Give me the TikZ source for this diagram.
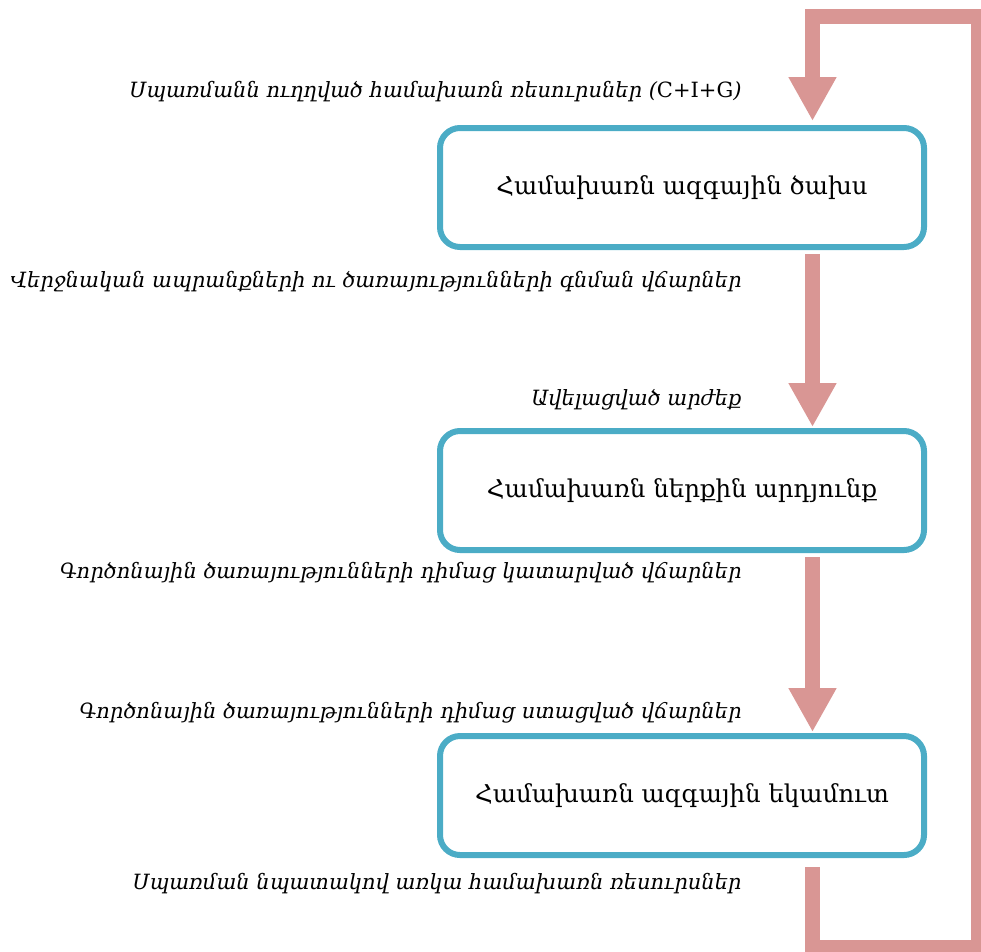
\documentclass[tikz,border=0pt]{standalone}
\usepackage{fontspec}
\setmainfont{DejaVu Serif}
\usetikzlibrary{positioning,arrows.meta}
\definecolor{boxblue}{HTML}{4BACC6}
\definecolor{flowpink}{HTML}{D99694}
\tikzset{
	sector/.style={draw=boxblue,line width=6pt,rounded corners=20pt,minimum width=484pt,minimum height=119pt,font=\fontsize{24.5}{28}\selectfont},
	flow/.style={draw=flowpink,line width=15pt,-{Triangle[length=44pt,width=45pt]}},
	note/.style={anchor=east,font=\itshape\fontsize{21}{25}\selectfont}
}
\begin{document}
\begin{tikzpicture}[x=1pt,y=-1pt]
	\clip (0,0) rectangle (981,951);
	\node[sector] (gne) at (682,187.5) {Համախառն ազգային ծախս};
	\node[sector,below=178pt of gne] (gdp) {Համախառն ներքին արդյունք};
	\node[sector,below=180pt of gdp] (gni) {Համախառն ազգային եկամուտ};
	\foreach \y/\t in {92/{Սպառմանն ուղղված համախառն ռեսուրսներ ({\upshape C+I+G})},
		282/Վերջնական ապրանքների ու ծառայությունների գնման վճարներ,
		400/Ավելացված արժեք,
		573/Գործոնային ծառայությունների դիմաց կատարված վճարներ,
		713/Գործոնային ծառայությունների դիմաց ստացված վճարներ,
		884/Սպառման նպատակով առկա համախառն ռեսուրսներ}
	\node[note] at (745,\y) {\t};
	\draw[flow] ([xshift=130.5pt,yshift=-4pt]gne.south) -- ([xshift=130.5pt,yshift=1pt]gdp.north);
	\draw[flow] ([xshift=130.5pt,yshift=-4pt]gdp.south) -- ([xshift=130.5pt,yshift=1pt]gni.north);
	\draw[flow] ([xshift=130.5pt,yshift=-9pt]gni.south) -- ++(0,80) -| (978.5,16.5) -| ([xshift=130.5pt,yshift=4pt]gne.north);
\end{tikzpicture}
\end{document}
